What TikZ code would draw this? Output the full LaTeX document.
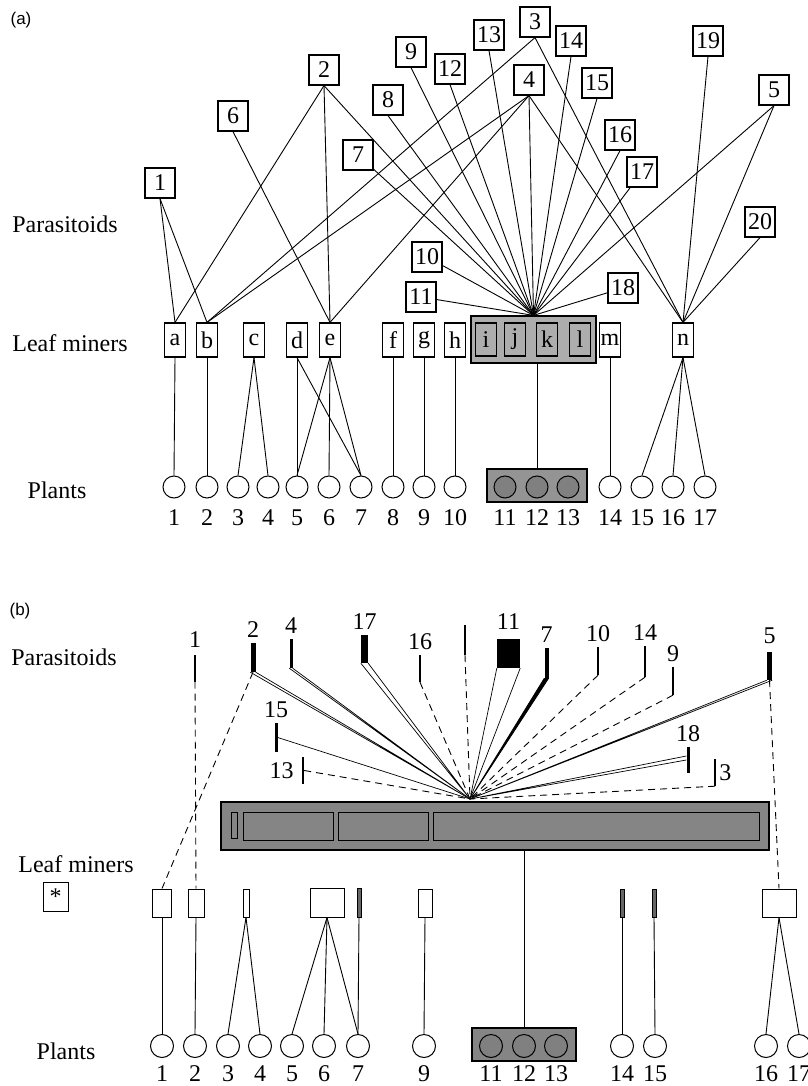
\documentclass[tikz,border=0pt]{standalone}
\usepackage{fontspec}
\setmainfont{Liberation Serif}
\newfontfamily\panelfont{Liberation Sans}
\usetikzlibrary{positioning, calc}

\newcommand{\figfont}{\fontsize{24}{28}\selectfont}

\tikzset{
  txt/.style={font=\figfont, inner sep=0pt},
  num/.style={font=\figfont, inner sep=1pt},
  pbox/.style={draw, line width=1.2pt, minimum width=30pt, minimum height=30pt, inner sep=1pt, font=\figfont},
  mbox/.style={draw, line width=1.2pt, minimum width=21pt, minimum height=34pt, inner sep=0pt, font=\figfont},
  plant/.style={draw, circle, line width=1pt, minimum size=22pt, inner sep=0pt},
  mbar/.style={draw, line width=1pt, minimum height=28pt, inner sep=0pt},
  pbar/.style={fill=black, inner sep=0pt, minimum height=28pt},
  link/.style={line width=0.9pt},
  dlink/.style={line width=0.9pt, dash pattern=on 7pt off 5pt},
  wedge/.style={draw, line width=0.7pt, fill=white, line join=round},
}

\begin{document}
\begin{tikzpicture}[x=1pt, y=-1pt, label distance=4pt]
    \useasboundingbox (0,0) rectangle (807,1086);

    % (a)
    \node[font=\panelfont\fontsize{17}{20}\selectfont, inner sep=0pt] (tagA) at (21,20) {(a)};
    \node[txt] (parA) at (65,224) {Parasitoids};
    \node[txt] (minA) at (70,343) {Leaf miners};
    \node[txt] (plaA) at (57,490) {Plants};

    \foreach \k/\x/\y in {1/160/183, 2/324/70, 3/535/22, 4/529/80, 5/774/90, 6/233/116,
        7/358/155, 8/388/100, 9/411/52, 10/427/257, 11/421/297, 12/450/69, 13/489/35,
        14/571/41, 15/597/83, 16/620/135, 17/642/172, 18/623/288, 19/708/41, 20/760/222}
        \node[pbox] (pa\k) at (\x,\y) {\k};

    \foreach \n/\x in {a/175, b/207, c/254, d/297, e/330, f/393, g/424, h/455, m/610, n/683}
        \node[mbox] (\n) at (\x,340) {\n};
    \node[draw, line width=1.2pt, fill=black!32, minimum width=125pt, minimum height=47pt] (ijkl) at (533.5,339.5) {};
    \foreach \n/\x in {i/486, j/515, k/547, l/580}
        \node[mbox, minimum height=33pt] (\n) at (\x,339.5) {\n};

    \foreach \k/\x in {1/174, 2/207, 3/238, 4/268, 5/297, 6/329, 7/361, 8/393, 9/424, 10/455,
        14/610, 15/642, 16/673, 17/705}
        \node[plant, label={[num, yshift=-6pt]below:\k}] (pl\k) at (\x,487) {};
    \node[draw, line width=1.2pt, fill=black!42, minimum width=100pt, minimum height=33pt] (plr) at (537,485.5) {};
    \foreach \k/\x in {11/505, 12/537, 13/568}
        \node[plant, fill=black!50, label={[num, yshift=-6pt]below:\k}] (pl\k) at (\x,487) {};

    \coordinate (fana) at (ijkl.north);
    \foreach \s/\t in {pa1/a, pa1/b, pa2/a, pa2/e, pa3/b, pa4/b, pa4/e, pa6/e,
        pa3/n, pa4/n, pa5/n, pa19/n, pa20/n}
        \draw[link] (\s.south) -- (\t.north);
    \foreach \s in {pa2, pa4, pa5, pa8, pa9, pa12, pa13, pa14, pa15, pa16}
        \draw[link] (\s.south) -- (fana);
    \foreach \s in {pa7, pa10, pa11, pa17, pa18}
        \draw[link] (\s) -- (fana);

    \foreach \s/\t in {a/1, b/2, c/3, c/4, d/5, d/7, e/5, e/6, e/7, f/8, g/9, h/10,
        m/14, n/15, n/16, n/17}
        \draw[link] (\s.south) -- (pl\t.north);
    \draw[link] (plr.north |- ijkl.south) -- (plr.north);

    % (b)
    \node[font=\panelfont\fontsize{17}{20}\selectfont, inner sep=0pt] (tagB) at (20,611) {(b)};
    \node[txt] (parB) at (64,657) {Parasitoids};
    \node[txt] (minB) at (76,864) {Leaf miners};
    \node[draw, line width=1pt, minimum width=25pt, minimum height=29pt, inner sep=0pt, font=\figfont] (star) at (55.5,897) {*};
    \node[txt] (plaB) at (66,1051) {Plants};

    \node[pbar, minimum width=1.5pt, minimum height=27pt, label={[num, yshift=2pt]above:1}] (pb1) at (195,668) {};
    \node[pbar, minimum width=5pt, minimum height=29pt, label={[num]above:2}] (pb2) at (253,657.5) {};
    \node[pbar, minimum width=3pt, minimum height=29pt, label={[num]above:4}] (pb4) at (291,653.5) {};
    \node[pbar, minimum width=7pt, label={[num]above:17}] (pb17) at (364.5,649) {};
    \node[pbar, minimum width=1.5pt, minimum height=27pt, label={[num]above:16}] (pb16) at (420,668.5) {};
    \node[pbar, minimum width=1.5pt, minimum height=30pt] (pbu) at (465,640) {};
    \node[pbar, minimum width=23pt, minimum height=29pt, label={[num, yshift=4pt]above:11}] (pb11) at (508.5,653.5) {};
    \node[pbar, minimum width=4pt, minimum height=30pt, label={[num]above:7}] (pb7) at (546.5,663) {};
    \node[pbar, minimum width=1.5pt, label={[num]above:10}] (pb10) at (598,661) {};
    \node[pbar, minimum width=1.5pt, minimum height=31pt, label={[num]above:14}] (pb14) at (645,661.5) {};
    \node[pbar, minimum width=2pt, label={[num]above:9}] (pb9) at (673,681) {};
    \node[pbar, minimum width=5pt, label={[num, yshift=3pt]above:5}] (pb5) at (769.5,666) {};
    \node[pbar, minimum width=3pt, minimum height=29pt, label={[num]above:15}] (pb15) at (276,737.5) {};
    \node[pbar, minimum width=2pt, minimum height=27pt, label={[num, xshift=-3pt]left:13}] (pb13) at (303,770.5) {};
    \node[pbar, minimum width=3pt, minimum height=26pt, label={[num]above:18}] (pb18) at (688,760) {};
    \node[pbar, minimum width=2pt, minimum height=27pt, label={[num, xshift=-2pt]right:3}] (pb3) at (715,772.5) {};

    \node[draw, line width=1.2pt, fill=black!48, minimum width=548pt, minimum height=48pt] (bigb) at (495,826) {};
    \node[draw, line width=1pt, minimum width=5pt, minimum height=26pt] (lm1) at (234.5,825) {};
    \node[draw, line width=1pt, minimum width=90pt, minimum height=28pt] (lm2) at (288,826) {};
    \node[draw, line width=1pt, minimum width=90pt, minimum height=28pt] (lm3) at (383,826) {};
    \node[draw, line width=1pt, minimum width=326pt, minimum height=28pt] (lm4) at (596,826) {};

    \node[mbar, minimum width=19pt] (mb1) at (162,903) {};
    \node[mbar, minimum width=16pt] (mb2) at (196,903) {};
    \node[mbar, minimum width=6pt] (mb3) at (246,903) {};
    \node[mbar, minimum width=34pt, minimum height=29pt] (mb5) at (327,902.5) {};
    \node[mbar, fill=black!60, minimum width=4pt, minimum height=29pt] (mb7) at (359,902.5) {};
    \node[mbar, minimum width=14pt] (mb9) at (425,903) {};
    \node[mbar, fill=black!60, minimum width=4pt] (mb14) at (622,903) {};
    \node[mbar, fill=black!60, minimum width=4pt] (mb15) at (654,903) {};
    \node[mbar, minimum width=34pt] (mb16) at (779,903) {};

    \foreach \k/\x in {1/162, 2/195, 3/228, 4/260, 5/292, 6/324, 7/358, 9/424,
        14/622, 15/655, 16/766, 17/799}
        \node[plant, minimum size=23pt, label={[num, yshift=-2.5pt]below:\k}] (qb\k) at (\x,1046) {};
    \node[draw, line width=1.2pt, fill=black!48, minimum width=104pt, minimum height=33pt] (qbr) at (524,1044.5) {};
    \foreach \k/\x in {11/491, 12/524, 13/556}
        \node[plant, minimum size=23pt, fill=black!50, label={[num, yshift=-2.5pt]below:\k}] (qb\k) at (\x,1046) {};

    \coordinate (fanb) at (470,799);
    \foreach \s in {pb2, pb4, pb17, pb11, pb5}
        \draw[wedge] (\s.south west) -- (fanb) -- (\s.south east);
    \draw[wedge, fill=black] (pb7.south west) -- (fanb) -- (pb7.south east);
    \draw[wedge] (pb18.west) -- (fanb) -- ([yshift=4pt]pb18.west);
    \draw[link, line width=0.7pt] (pb15.east) -- (fanb);
    \foreach \s in {pb16, pbu, pb10, pb14, pb9, pb3}
        \draw[dlink] (\s.south) -- (fanb);
    \draw[dlink] (pb13.east) -- (fanb);
    \draw[dlink] (pb1.south) -- (mb2.north);
    \draw[dlink] (pb2.south) -- (mb1.north);
    \draw[dlink] (pb5.south) -- (mb16.north);

    \foreach \s/\t in {mb1/1, mb2/2, mb3/3, mb3/4, mb5/5, mb5/6, mb5/7, mb7/7, mb9/9,
        mb14/14, mb15/15, mb16/16, mb16/17}
        \draw[link] (\s.south) -- (qb\t.north);
    \draw[link] (qbr.north |- bigb.south) -- (qbr.north);
\end{tikzpicture}
\end{document}
